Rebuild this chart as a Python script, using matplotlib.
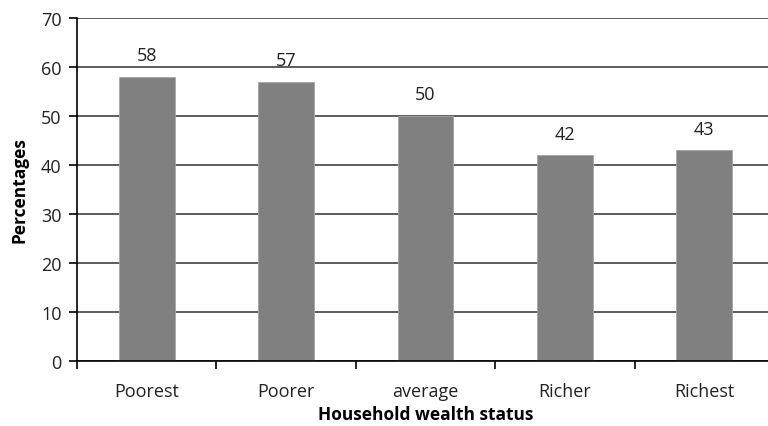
import matplotlib
matplotlib.use("Agg")
import matplotlib.pyplot as plt
import numpy as np

# household wealth groups and share (%)
categories = ["Poorest", "Poorer", "average", "Richer", "Richest"]
percentages = [58, 57, 50, 42, 43]

plt.rcParams['font.family'] = ['Open Sans', 'DejaVu Sans']

fig = plt.figure(figsize=(7.68, 4.27), dpi=100)
ax = fig.add_axes([77 / 768, 65 / 427, 697 / 768, 343 / 427])

x = np.arange(len(categories))
ax.set_axisbelow(True)
ax.yaxis.grid(True, color="#404040", linewidth=1.2)
bars = ax.bar(x, percentages, width=0.4, color="#808080", edgecolor="#a6a6a6", linewidth=0.6, zorder=2)

for xi, v in zip(x, percentages):
    ax.annotate(str(v), (xi, v), xytext=(0, 9), textcoords="offset points",
                ha="center", va="bottom", fontsize=13, color="#222222")

ax.set_xlim(-0.5, len(categories) - 0.5)
ax.set_ylim(0, 70)
ax.set_yticks(range(0, 71, 10))

# category labels between boundary ticks
ax.set_xticks(np.arange(-0.5, len(categories), 1.0))
ax.set_xticklabels([])
ax.set_xticks(x, minor=True)
ax.set_xticklabels(categories, minor=True)
ax.tick_params(axis="x", which="minor", length=0, pad=15, labelsize=13, labelcolor="#222222")
ax.tick_params(axis="x", which="major", length=6, width=1.2, direction="out")
ax.tick_params(axis="y", length=6, width=1.2, direction="out", labelsize=13, labelcolor="#222222", pad=5)

for s in ["top", "right"]:
    ax.spines[s].set_visible(False)
ax.spines["left"].set_linewidth(1.2)
ax.spines["bottom"].set_linewidth(1.2)

ax.set_xlabel("Household wealth status", fontsize=12.5, fontweight="bold", labelpad=4)
ax.set_ylabel("Percentages", fontsize=12.5, fontweight="bold", labelpad=9)

fig.savefig("out.png", dpi=100)
